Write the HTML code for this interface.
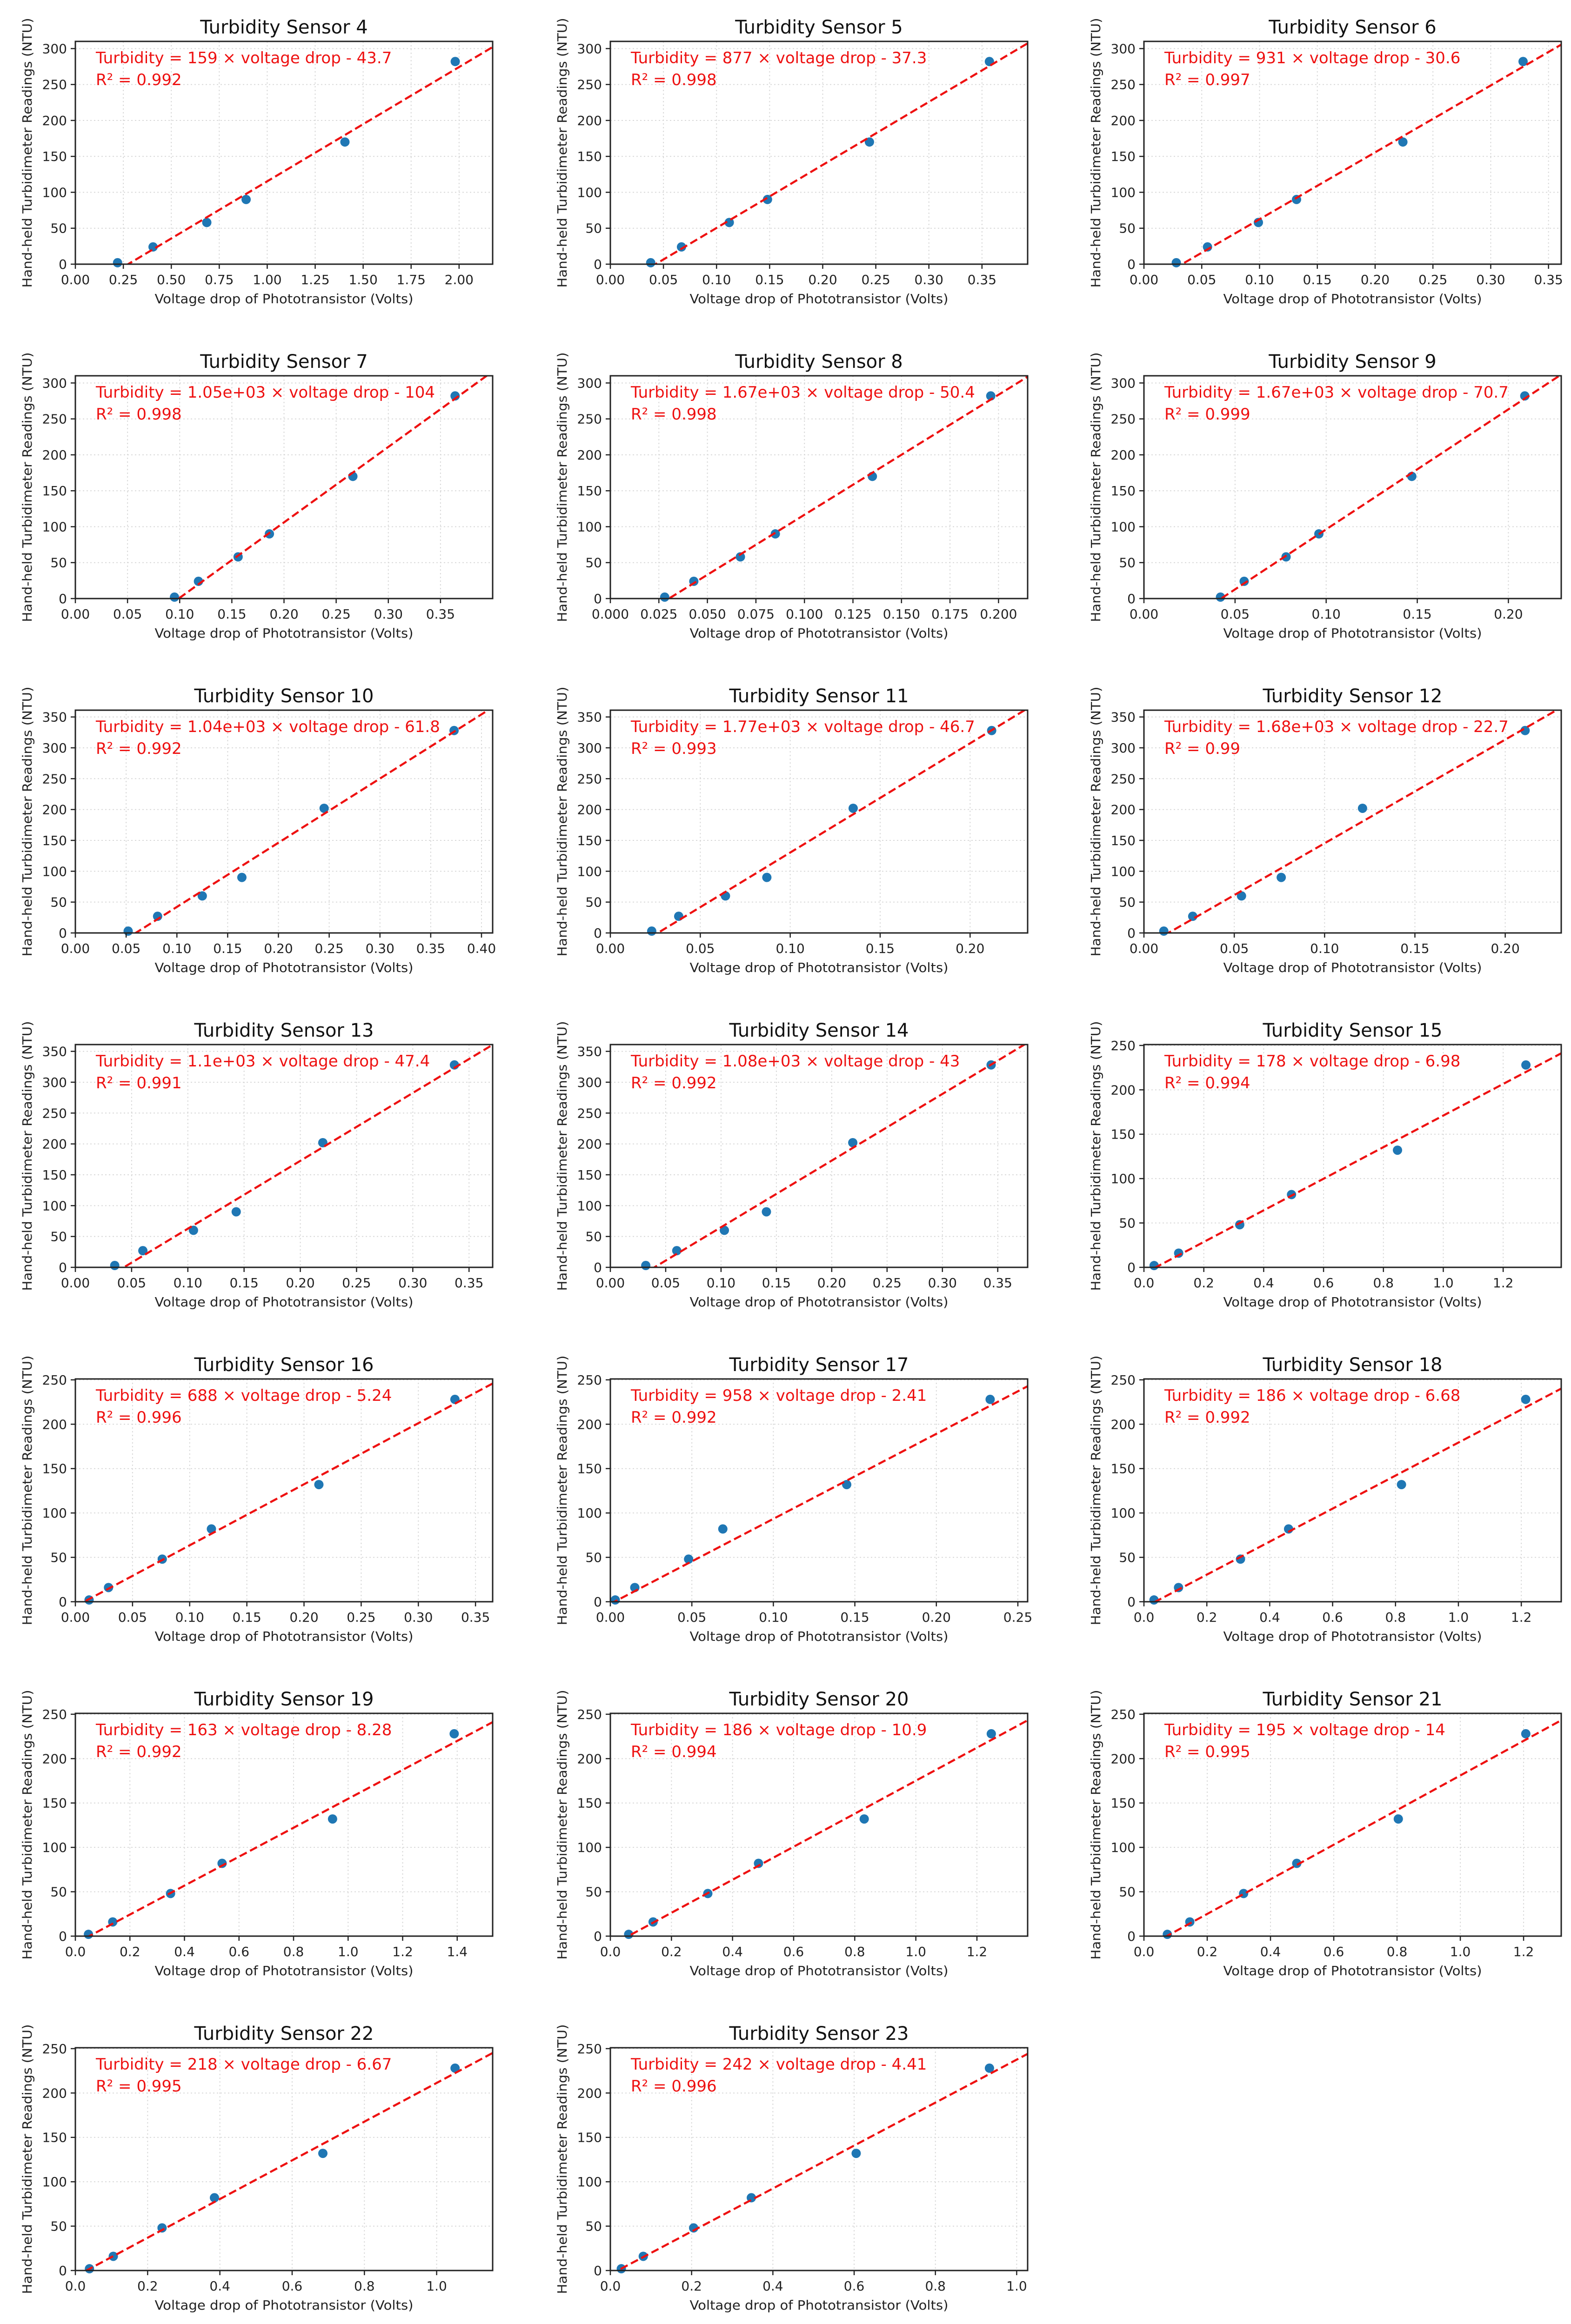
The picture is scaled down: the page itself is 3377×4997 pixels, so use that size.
<!DOCTYPE html>
<html><head><meta charset="utf-8"><title>Turbidity Sensors</title>
<style>html,body{margin:0;padding:0;background:#fff}svg{display:block}text{font-family:"DejaVu Sans","Liberation Sans",sans-serif}</style>
</head><body>
<svg id="fig" xmlns="http://www.w3.org/2000/svg" width="3377" height="4997" viewBox="0 0 3377 4997"></svg>
<script>
const sensorIds = [4,5,6,7,8,9,10,11,12,13,14,15,16,17,18,19,20,21,22,23];
const xValues = [
 [0.22,0.405,0.685,0.89,1.405,1.98],
 [0.038,0.067,0.112,0.148,0.244,0.357],
 [0.028,0.055,0.099,0.132,0.224,0.328],
 [0.095,0.118,0.156,0.186,0.266,0.364],
 [0.028,0.043,0.067,0.085,0.135,0.196],
 [0.042,0.055,0.078,0.096,0.147,0.209],
 [0.052,0.081,0.125,0.164,0.245,0.373],
 [0.023,0.038,0.064,0.087,0.135,0.212],
 [0.011,0.027,0.054,0.076,0.121,0.211],
 [0.035,0.060,0.105,0.143,0.220,0.337],
 [0.032,0.060,0.103,0.141,0.219,0.344],
 [0.034,0.116,0.320,0.493,0.847,1.276],
 [0.012,0.029,0.076,0.119,0.213,0.332],
 [0.003,0.015,0.048,0.069,0.145,0.233],
 [0.032,0.110,0.307,0.460,0.819,1.214],
 [0.048,0.137,0.349,0.538,0.943,1.389],
 [0.060,0.140,0.319,0.485,0.831,1.247],
 [0.074,0.145,0.315,0.483,0.804,1.207],
 [0.039,0.105,0.240,0.385,0.685,1.051],
 [0.027,0.081,0.205,0.347,0.605,0.933]
];
const yValuesA = [2,24,58,90,170,282];
const yValuesB = [3,27,60,90,202,328];
const yValuesC = [2,16,48,82,132,228];
const yGroup = ['A','A','A','A','A','A','B','B','B','B','B','C','C','C','C','C','C','C','C','C'];
const slopes = [159,877,931,1050,1670,1670,1040,1770,1680,1100,1080,178,688,958,186,163,186,195,218,242];
const intercepts = [-43.7,-37.3,-30.6,-104,-50.4,-70.7,-61.8,-46.7,-22.7,-47.4,-43,-6.98,-5.24,-2.41,-6.68,-8.28,-10.9,-14,-6.67,-4.41];
const slopeLabels = ['159','877','931','1.05e+03','1.67e+03','1.67e+03','1.04e+03','1.77e+03','1.68e+03','1.1e+03','1.08e+03','178','688','958','186','163','186','195','218','242'];
const interceptLabels = ['43.7','37.3','30.6','104','50.4','70.7','61.8','46.7','22.7','47.4','43','6.98','5.24','2.41','6.68','8.28','10.9','14','6.67','4.41'];
const r2Labels = ['0.992','0.998','0.997','0.998','0.998','0.999','0.992','0.993','0.99','0.991','0.992','0.994','0.996','0.992','0.992','0.992','0.994','0.995','0.995','0.996'];
const xMax = [2.175,0.393,0.361,0.40,0.215,0.229,0.411,0.232,0.231,0.371,0.377,1.394,0.365,0.256,1.327,1.53,1.366,1.319,1.155,1.027];
const xTickLabels = [
 ['0.00','0.25','0.50','0.75','1.00','1.25','1.50','1.75','2.00'],
 ['0.00','0.05','0.10','0.15','0.20','0.25','0.30','0.35'],
 ['0.00','0.05','0.10','0.15','0.20','0.25','0.30','0.35'],
 ['0.00','0.05','0.10','0.15','0.20','0.25','0.30','0.35'],
 ['0.000','0.025','0.050','0.075','0.100','0.125','0.150','0.175','0.200'],
 ['0.00','0.05','0.10','0.15','0.20'],
 ['0.00','0.05','0.10','0.15','0.20','0.25','0.30','0.35','0.40'],
 ['0.00','0.05','0.10','0.15','0.20'],
 ['0.00','0.05','0.10','0.15','0.20'],
 ['0.00','0.05','0.10','0.15','0.20','0.25','0.30','0.35'],
 ['0.00','0.05','0.10','0.15','0.20','0.25','0.30','0.35'],
 ['0.0','0.2','0.4','0.6','0.8','1.0','1.2'],
 ['0.00','0.05','0.10','0.15','0.20','0.25','0.30','0.35'],
 ['0.00','0.05','0.10','0.15','0.20','0.25'],
 ['0.0','0.2','0.4','0.6','0.8','1.0','1.2'],
 ['0.0','0.2','0.4','0.6','0.8','1.0','1.2','1.4'],
 ['0.0','0.2','0.4','0.6','0.8','1.0','1.2'],
 ['0.0','0.2','0.4','0.6','0.8','1.0','1.2'],
 ['0.0','0.2','0.4','0.6','0.8','1.0'],
 ['0.0','0.2','0.4','0.6','0.8','1.0']
];
const yTicksA = ['0','50','100','150','200','250','300'];
const yTicksB = ['0','50','100','150','200','250','300','350'];
const yTicksC = ['0','50','100','150','200','250'];
const yMaxA = 310, yMaxB = 361, yMaxC = 251;

const NS = 'http://www.w3.org/2000/svg';
const svg = document.getElementById('fig');
const colLeft = [162,1312,2459];
const W = 897, H = 479, TOP0 = 89, PITCH = 719;
function mk(tag, attrs, parent, txt){
  const e = document.createElementNS(NS, tag);
  for (const k in attrs) e.setAttribute(k, attrs[k]);
  if (txt !== undefined) e.textContent = txt;
  parent.appendChild(e); return e;
}

sensorIds.forEach((sid, i) => {
  const row = Math.floor(i/3), col = i%3;
  const L = colLeft[col], T = TOP0 + row*PITCH, R = L+W, B = T+H;
  const g = yGroup[i];
  const ys = g==='A'?yValuesA:(g==='B'?yValuesB:yValuesC);
  const yt = g==='A'?yTicksA:(g==='B'?yTicksB:yTicksC);
  const yMax = g==='A'?yMaxA:(g==='B'?yMaxB:yMaxC);
  const xm = xMax[i];
  const sx = v => L + v/xm*W;
  const sy = v => B - v/yMax*H;

  const p = mk('g', {}, svg);
  
  

  const cp = mk('clipPath', {id:'clip'+sid}, p);
  mk('rect', {x:L, y:T, width:W, height:H}, cp);

  // grid
  const grid = mk('g', {}, p);
  
  
  xTickLabels[i].forEach(lab => {
    const x = sx(parseFloat(lab));
    mk('line', {x1:x, x2:x, y1:T, y2:B, stroke:'#d9d9d9', 'stroke-width':2, 'stroke-dasharray':'3,5'}, grid);
  });
  yt.forEach(lab => {
    const y = sy(parseFloat(lab));
    mk('line', {x1:L, x2:R, y1:y, y2:y, stroke:'#d9d9d9', 'stroke-width':2, 'stroke-dasharray':'3,5'}, grid);
  });

  // zero line
  const zl = mk('line', {x1:L, x2:R, y1:sy(0), y2:sy(0), stroke:'#222', 'stroke-width':3, 'stroke-dasharray':'11,5'}, p);
  
  

  // points
  const pts = mk('g', {}, p);
  
  
  xValues[i].forEach((xv, k) => {
    const c = mk('ellipse', {cx:sx(xv), cy:sy(ys[k]), rx:10, ry:10, fill:'#1f77b4'}, pts);
    
    
  });

  // fit line
  const x0 = 0, x1 = xm;
  const fl = mk('line', {x1:sx(x0), y1:sy(slopes[i]*x0+intercepts[i]), x2:sx(x1), y2:sy(slopes[i]*x1+intercepts[i]),
    stroke:'#ee1111', 'stroke-width':4.5, 'stroke-dasharray':'17,8', 'clip-path':'url(#clip'+sid+')'}, p);
  
  

  // frame
  const fr = mk('rect', {x:L, y:T, width:W, height:H, fill:'none', stroke:'#222', 'stroke-width':3}, p);
  
  

  // x ticks
  const xa = mk('g', {}, p);
  
  
  xTickLabels[i].forEach(lab => {
    const x = sx(parseFloat(lab));
    mk('line', {x1:x, x2:x, y1:B, y2:B+10, stroke:'#222', 'stroke-width':2.5}, xa);
    const t = mk('text', {x:x, y:B+43, 'font-size':28, 'text-anchor':'middle', fill:'#222'}, xa, lab);
    
    
  });
  const ya = mk('g', {}, p);
  
  
  yt.forEach(lab => {
    const y = sy(parseFloat(lab));
    mk('line', {x1:L-10, x2:L, y1:y, y2:y, stroke:'#222', 'stroke-width':2.5}, ya);
    const t = mk('text', {x:L-18, y:y+10, 'font-size':28, 'text-anchor':'end', fill:'#222'}, ya, lab);
    
    
  });

  const xl = mk('text', {x:L+W/2, y:B+84, 'font-size':28, 'text-anchor':'middle', fill:'#222', textLength:556, lengthAdjust:'spacingAndGlyphs'}, p, 'Voltage drop of Phototransistor (Volts)');
  
  
  const cy = T + H/2;
  const yl = mk('text', {x:0, y:0, 'font-size':28, 'text-anchor':'middle', fill:'#222', textLength:580, lengthAdjust:'spacingAndGlyphs',
    transform:'translate('+(L-94)+','+cy+') rotate(-90)'}, p, 'Hand-held Turbidimeter Readings (NTU)');
  
  

  const tt = mk('text', {x:L+W/2, y:T-17, 'font-size':40, 'text-anchor':'middle', fill:'#111'}, p, 'Turbidity Sensor ' + sid);
  
  

  const eq = mk('text', {x:L+44, y:T+47, 'font-size':34, fill:'#ee1111'}, p, 'Turbidity = ' + slopeLabels[i] + ' \u00d7 voltage drop - ' + interceptLabels[i]);
  
  
  const r2 = mk('text', {x:L+44, y:T+94, 'font-size':34, fill:'#ee1111'}, p, 'R\u00b2 = ' + r2Labels[i]);
  
  
});
</script>
</body></html>
